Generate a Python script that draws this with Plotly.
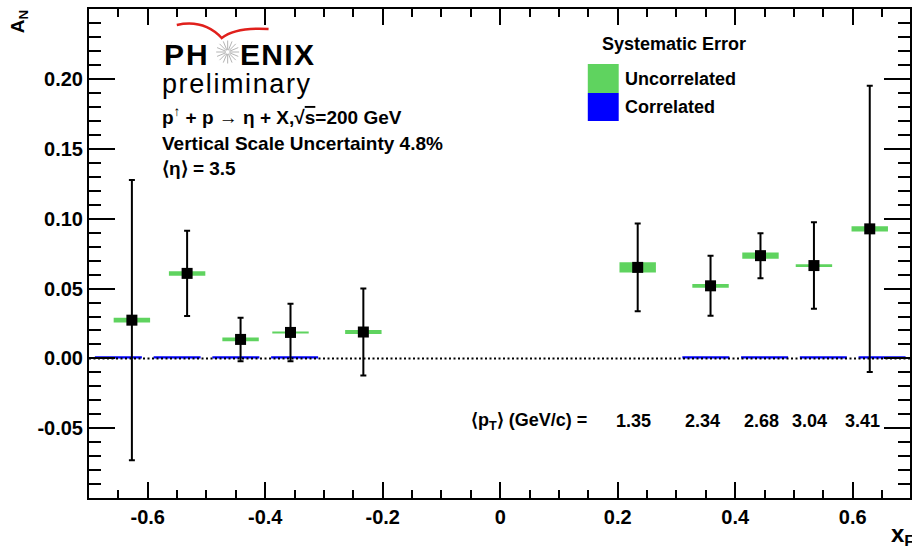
import numpy as np
import plotly.graph_objects as go

# eta A_N vs x_F, p(up)+p at sqrt(s)=200 GeV
xf = [-0.627, -0.533, -0.442, -0.357, -0.233, 0.234, 0.358, 0.443, 0.534, 0.629]
an = [0.0274, 0.0609, 0.0136, 0.0186, 0.0189, 0.0652, 0.0520, 0.0736, 0.0665, 0.0928]
stat_err = [0.1004, 0.0305, 0.0156, 0.0206, 0.0312, 0.0314, 0.0215, 0.0161, 0.0310, 0.1025]
sys_uncorr = [0.0017, 0.0016, 0.0014, 0.0007, 0.0014, 0.0036, 0.0013, 0.0023, 0.0010, 0.0019]

# correlated systematic bands, drawn from zero
corr_x = [-0.65, -0.55, -0.45, -0.35, 0.35, 0.45, 0.55, 0.65]
corr_sys = [0.0015, 0.0015, 0.0015, 0.0015, 0.0015, 0.0015, 0.0015, 0.0015]

# mean pT for the forward bins
pt_labels = ["1.35", "2.34", "2.68", "3.04", "3.41"]
pt_label_x = [0.227, 0.344, 0.444, 0.527, 0.617]

x_major = [-0.6, -0.4, -0.2, 0.0, 0.2, 0.4, 0.6]
x_major_text = ["-0.6", "-0.4", "-0.2", "0", "0.2", "0.4", "0.6"]
y_major = [-0.05, 0.0, 0.05, 0.10, 0.15, 0.20]
y_major_text = ["-0.05", "0.00", "0.05", "0.10", "0.15", "0.20"]

GREEN = "#5fd35f"
BLUE = "#0000ff"
FONT = "Liberation Sans"

W, H = 912, 546
ML, MR, MT, MB = 89, 0, 9, 48
PW, PH = W - ML - MR, H - MT - MB


def paper(px, py):
    """Pixel position -> paper coordinates."""
    return (px - ML) / PW, (H - MB - py) / PH


fig = go.Figure()

shapes = []
# uncorrelated systematic boxes
BOX_HW = 0.031
for x, y, s in zip(xf, an, sys_uncorr):
    shapes.append(dict(type="rect", xref="x", yref="y", x0=x - BOX_HW, x1=x + BOX_HW,
                       y0=y - s, y1=y + s, fillcolor=GREEN, line=dict(width=0), layer="below"))
# correlated systematic boxes
for x, s in zip(corr_x, corr_sys):
    shapes.append(dict(type="rect", xref="x", yref="y", x0=x - 0.04, x1=x + 0.04,
                       y0=0, y1=s, fillcolor=BLUE, line=dict(width=0), layer="below"))
# dotted zero line
shapes.append(dict(type="line", xref="x", yref="y", x0=-0.7, x1=0.7, y0=0, y1=0,
                   line=dict(color="black", width=2, dash="2px,2.5px"), layer="below"))

# legend swatches
gx0, gy0 = paper(589, 64)
gx1, gy1 = paper(620, 93)
shapes.append(dict(type="rect", xref="paper", yref="paper", x0=gx0, x1=gx1, y0=gy1, y1=gy0,
                   fillcolor=GREEN, line=dict(width=0)))
bx0, by0 = paper(589, 93)
bx1, by1 = paper(620, 121)
shapes.append(dict(type="rect", xref="paper", yref="paper", x0=bx0, x1=bx1, y0=by1, y1=by0,
                   fillcolor=BLUE, line=dict(width=0)))


# PHENIX logo: red wing arc
def pth(points):
    out = []
    for cmd, pts in points:
        coords = " ".join("%.5f,%.5f" % paper(*p) for p in pts)
        out.append(cmd + " " + coords)
    return " ".join(out)


wing = pth([("M", [(177, 25)]), ("Q", [(204, 19), (222, 38)]), ("Q", [(236, 27), (269, 29)])])
shapes.append(dict(type="path", xref="paper", yref="paper", path=wing,
                   line=dict(color="#e0201c", width=2.5)))
# logo star burst
cx, cy = 228, 52
for k in range(16):
    a = np.pi * k / 8
    x0, y0 = paper(cx + 2 * np.cos(a), cy + 2 * np.sin(a))
    x1, y1 = paper(cx + 11.5 * np.cos(a), cy + 11.5 * np.sin(a))
    shapes.append(dict(type="line", xref="paper", yref="paper", x0=x0, y0=y0, x1=x1, y1=y1,
                       line=dict(color="#b4b4b4", width=1)))

fig.add_trace(go.Scatter(
    x=xf, y=an, mode="markers",
    marker=dict(symbol="square", size=11, color="black"),
    error_y=dict(type="data", array=stat_err, color="black", thickness=2, width=3),
    showlegend=False, cliponaxis=False,
))

annotations = []


def text(px, py, s, size, anchor="left", **kw):
    x, y = paper(px, py)
    annotations.append(dict(xref="paper", yref="paper", x=x, y=y, text=s, showarrow=False,
                            xanchor=anchor, yanchor="middle",
                            font=dict(family=FONT, size=size, color="black"), **kw))


text(162, 55, "<b><span style='letter-spacing:2px'>PH</span></b>", 30)
text(238, 55, "<b><span style='letter-spacing:1.3px'>ENIX</span></b>", 30)
text(160, 84, "<span style='letter-spacing:1.6px'>preliminary</span>", 27)
text(160, 116, "<b>p<sup>↑</sup> + p → η + X,√<span style='text-decoration:overline'>s</span>=200 GeV</b>", 19)
text(160, 143, "<b>Vertical Scale Uncertainty 4.8%</b>", 19)
text(160, 169, "<b>⟨η⟩ = 3.5</b>", 19)

text(601, 44, "<b>Systematic Error</b>", 18)
text(624, 79, "<b>Uncorrelated</b>", 18)
text(624, 107, "<b>Correlated</b>", 18)

text(470, 421, "<b>⟨p<sub>T</sub>⟩ (GeV/c) =</b>", 18)
for lab, xv in zip(pt_labels, pt_label_x):
    annotations.append(dict(xref="x", yref="paper", x=xv, y=paper(0, 421)[1], text="<b>%s</b>" % lab,
                            showarrow=False, xanchor="center", yanchor="middle",
                            font=dict(family=FONT, size=18, color="black")))

# axis titles
text(19, 22, "<b>A<sub>N</sub></b>", 19, anchor="center", textangle=-90)
text(891, 535, "<b>x<sub>F</sub></b>", 24)

axis_common = dict(showline=True, linecolor="black", linewidth=2, mirror="allticks",
                   ticks="inside", tickcolor="black", tickwidth=2, showgrid=False,
                   zeroline=False, tickmode="array",
                   tickfont=dict(family=FONT, size=20, color="black", weight="bold"))

fig.update_layout(
    width=W, height=H,
    margin=dict(l=ML, r=MR, t=MT, b=MB),
    paper_bgcolor="white", plot_bgcolor="white",
    xaxis=dict(range=[-0.7, -0.7 + PW / 588.9], tickvals=x_major, ticktext=x_major_text,
               ticklen=16,
               minor=dict(tickmode="array", tickvals=list(np.round(np.arange(-0.65, 0.70, 0.05), 2)),
                          ticklen=8, tickwidth=2, tickcolor="black", ticks="inside"),
               **axis_common),
    yaxis=dict(range=[-0.1, 0.2503], tickvals=y_major, ticktext=y_major_text,
               ticklen=26,
               minor=dict(tickmode="array", tickvals=list(np.round(np.arange(-0.09, 0.25, 0.01), 2)),
                          ticklen=12, tickwidth=2, tickcolor="black", ticks="inside"),
               **axis_common),
    shapes=shapes,
    annotations=annotations,
)

fig.write_html("out.html")
